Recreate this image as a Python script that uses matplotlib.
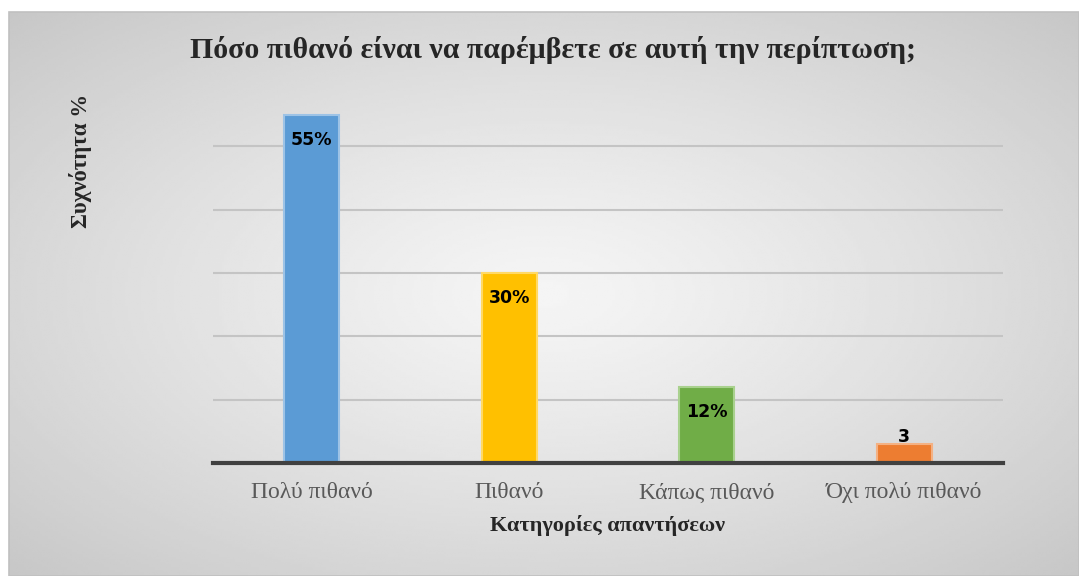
import matplotlib.pyplot as plt
import numpy as np
from matplotlib.patches import Rectangle

categories = ["Πολύ πιθανό", "Πιθανό", "Κάπως πιθανό", "Όχι πολύ πιθανό"]
values = [55, 30, 12, 3]
labels = ["55%", "30%", "12%", "3"]
colors = ["#5B9BD5", "#FFC000", "#70AD47", "#ED7D31"]
edges = ["#9DC3E6", "#FFD966", "#A9D18E", "#F4B183"]

W, H = 1079, 576
fig = plt.figure(figsize=(W / 100, H / 100), dpi=100)

# background with radial gradient
bg = fig.add_axes([0, 0, 1, 1])
bg.set_xlim(0, W)
bg.set_ylim(H, 0)
bg.axis("off")
x0, y0, x1, y1 = 9, 12, 1079, 576
xx, yy = np.meshgrid(np.linspace(-1, 1, 400), np.linspace(-1, 1, 220))
r = np.sqrt(xx ** 2 + yy ** 2) / np.sqrt(2)
shade = 0.96 - 0.18 * r ** 1.2
bg.imshow(shade, cmap="gray", vmin=0, vmax=1, extent=[x0, x1, y1, y0],
          aspect="auto", interpolation="bilinear")
bg.add_patch(Rectangle((x0, y0), x1 - x0, y1 - y0, fill=False,
                       edgecolor="#c0c0c0", lw=1.2))

# plot area
ax = fig.add_axes([213 / W, 1 - 463 / H, (1003 - 213) / W, (463 - 83) / H])
ax.patch.set_alpha(0)
x = np.arange(len(categories))
ax.bar(x, values, width=0.28, color=colors, edgecolor=edges, linewidth=1.5, zorder=3)
ax.set_xlim(-0.5, len(categories) - 0.5)
ax.set_ylim(0, 60)
for yv in [10, 20, 30, 40, 50]:
    ax.axhline(yv, color="#c4c4c4", lw=1.5, zorder=1)
for s in ["top", "right", "left"]:
    ax.spines[s].set_visible(False)
ax.spines["bottom"].set_color("#404040")
ax.spines["bottom"].set_linewidth(3)
ax.spines["bottom"].set_zorder(4)
ax.set_yticks([])
ax.set_xticks(x)
ax.set_xticklabels(categories, family="Liberation Serif", fontsize=17, color="#595959")
ax.tick_params(axis="x", length=0, pad=14)

for xi, v, lab in zip(x, values, labels):
    if v > 8:
        ax.text(xi, v - 2.6, lab, ha="center", va="top", fontsize=12.5,
                fontweight="bold", family="DejaVu Sans", zorder=5)
    else:
        ax.text(xi, v - 0.3, lab, ha="center", va="bottom", fontsize=12.5,
                fontweight="bold", family="DejaVu Sans", zorder=5)

fig.text(553 / W, 1 - 50 / H, "Πόσο πιθανό είναι να παρέμβετε σε αυτή την περίπτωση;",
         ha="center", va="center", family="Liberation Serif", fontweight="bold",
         fontsize=21.5, color="#262626")
fig.text(608 / W, 1 - 525 / H, "Κατηγορίες απαντήσεων", ha="center", va="center",
         family="Liberation Serif", fontweight="bold", fontsize=16, color="#262626")
fig.text(80 / W, 1 - 161 / H, "Συχνότητα %", ha="center", va="center", rotation=90,
         family="Liberation Serif", fontweight="bold", fontsize=16.5, color="#262626")

fig.savefig("out.png", dpi=100)
